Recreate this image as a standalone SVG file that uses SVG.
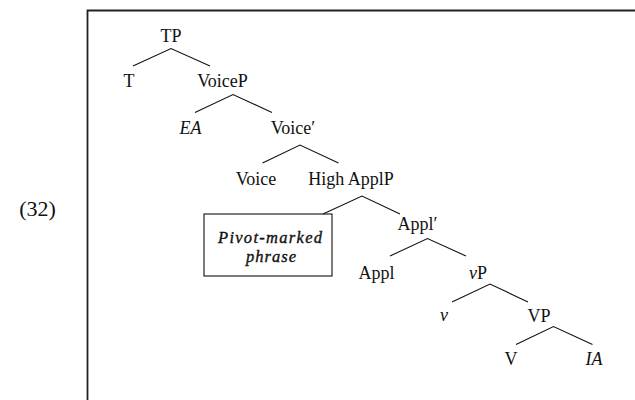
<svg xmlns="http://www.w3.org/2000/svg" width="635" height="400" viewBox="0 0 635 400">
  <style>
    text { font-family: 'Liberation Serif', 'Times New Roman', Times, 'DejaVu Serif', serif; font-size: 18px; fill: #111; text-anchor: middle; }
    .it { font-style: italic; }
    .num { font-size: 22px; }
    .box { font-style: italic; font-size: 16.5px; stroke: #111; stroke-width: 0.35; }
    .edge { stroke: #111; stroke-width: 1.1; fill: none; }
    .frame { stroke: #222; stroke-width: 1.8; fill: none; }
  </style>
  <rect width="635" height="400" fill="#fff"/>

  <!-- example number and frame -->
  <text class="num" x="37.5" y="216">(32)</text>
  <path class="frame" d="M87.5,400 V10.5 H635"/>

  <!-- tree edges -->
  <g id="connectors">
    <path class="edge" d="M133,66 L171,48.5 L210,66"/>
    <path class="edge" d="M195,112.5 L233,94.5 L272,112.5"/>
    <path class="edge" d="M262.5,163 L300,145 L338.5,163"/>
    <path class="edge" d="M323,214 L362,196 L400,214"/>
    <path class="edge" d="M390,256 L427.5,238.5 L466,256"/>
    <path class="edge" d="M452,302 L490,284 L528,302"/>
    <path class="edge" d="M516,344.5 L553.5,326.5 L592.5,344.5"/>
  </g>

  <g id="TP"><text x="171" y="41.5">TP</text></g>
  <g id="T"><text x="129" y="86.5">T</text></g>
  <g id="VoiceP"><text x="222.5" y="86.5">VoiceP</text></g>
  <g id="EA"><text class="it" x="190.5" y="134">EA</text></g>
  <g id="VoiceBar"><text x="293" y="134">Voice′</text></g>
  <g id="Voice"><text x="256" y="185">Voice</text></g>
  <g id="HighApplP"><text x="351" y="185">High ApplP</text></g>
  <g id="Pivot">
    <rect x="204" y="214" width="128" height="62" fill="none" stroke="#111" stroke-width="1.1"/>
    <text class="box" x="270" y="242.5" textLength="104" lengthAdjust="spacing">Pivot-marked</text>
    <text class="box" x="271" y="262" textLength="50" lengthAdjust="spacing">phrase</text>
  </g>
  <g id="ApplBar"><text x="417.5" y="230">Appl′</text></g>
  <g id="Appl"><text x="376.5" y="278.5">Appl</text></g>
  <g id="vP"><text x="478" y="278.5"><tspan class="it">v</tspan>P</text></g>
  <g id="v"><text class="it" x="444" y="321">v</text></g>
  <g id="VP"><text x="539" y="322">VP</text></g>
  <g id="V"><text x="511" y="365">V</text></g>
  <g id="IA"><text class="it" x="594" y="365">IA</text></g>
</svg>
